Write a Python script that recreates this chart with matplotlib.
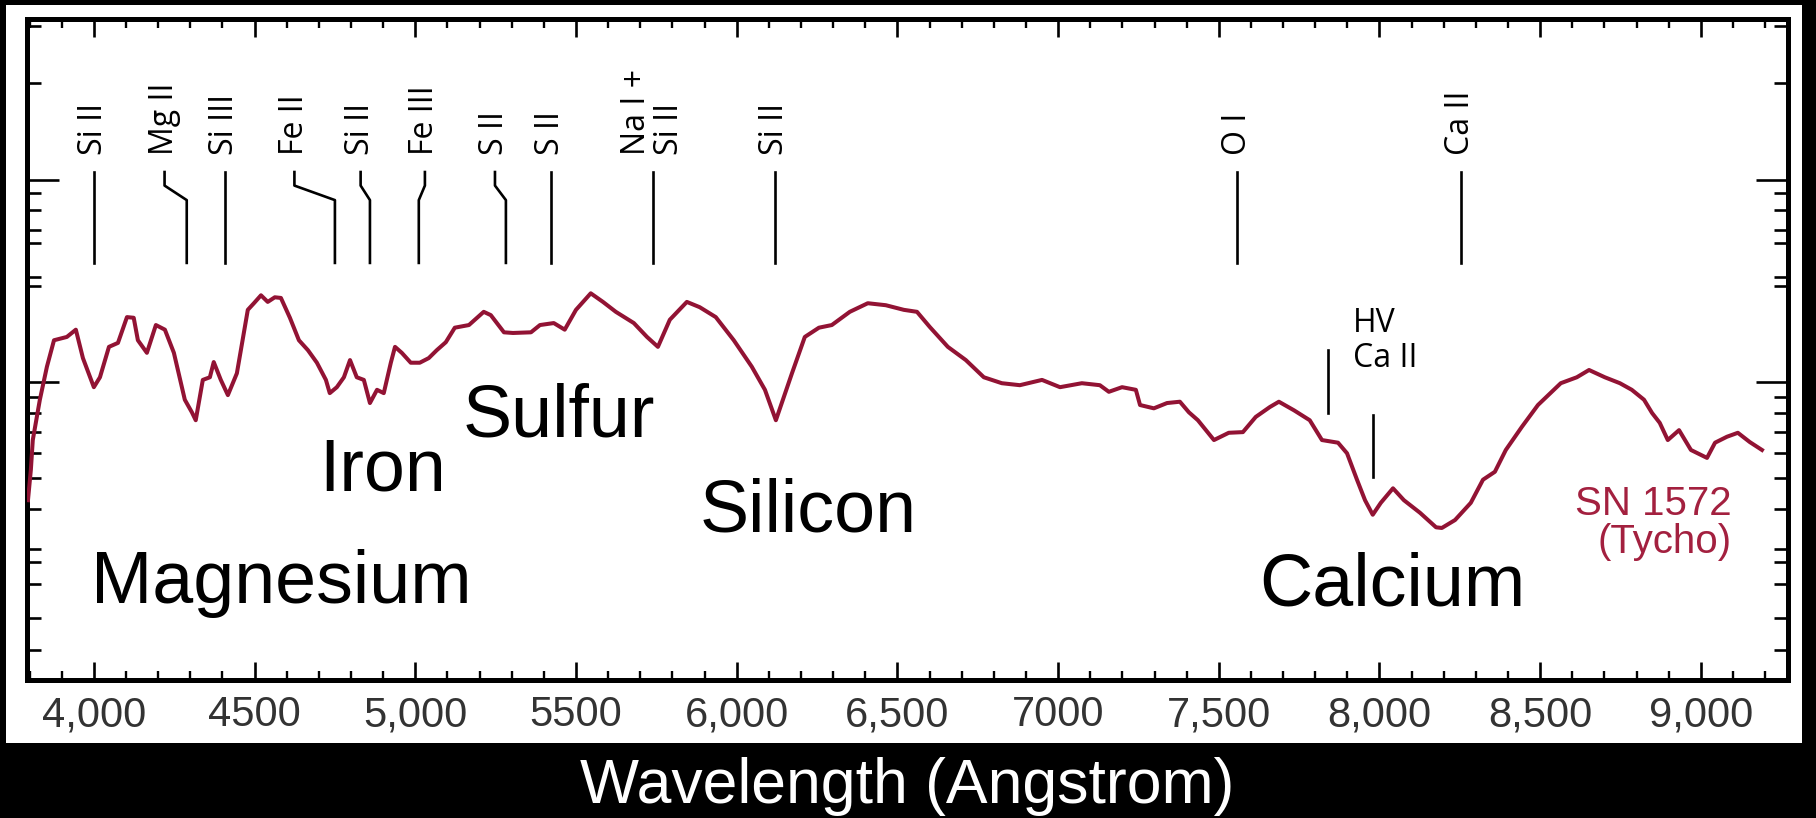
import matplotlib
matplotlib.use("Agg")
import matplotlib.pyplot as plt
from matplotlib.patches import Rectangle

# ---------------- data ----------------
wavelength = [3795, 3804, 3810, 3832, 3854, 3876, 3916, 3944, 3966, 4000, 4019, 4047, 4075,
              4103, 4124, 4137, 4165, 4193, 4221, 4249, 4283, 4305, 4317, 4339, 4361, 4373,
              4395, 4417, 4445, 4479, 4498, 4520, 4541, 4563, 4582, 4610, 4638, 4666, 4694,
              4722, 4734, 4756, 4778, 4797, 4818, 4840, 4859, 4881, 4902, 4924, 4937, 4958,
              4986, 5014, 5042, 5067, 5095, 5123, 5167, 5213, 5235, 5276, 5304, 5360, 5388,
              5431, 5465, 5500, 5546, 5584, 5624, 5680, 5721, 5755, 5792, 5845, 5885, 5935,
              5991, 6047, 6088, 6122, 6172, 6212, 6256, 6296, 6352, 6408, 6464, 6520, 6561,
              6601, 6657, 6713, 6769, 6825, 6881, 6950, 7006, 7074, 7130, 7158, 7199, 7242,
              7255, 7298, 7339, 7379, 7407, 7435, 7485, 7531, 7575, 7615, 7659, 7687, 7734,
              7783, 7821, 7871, 7899, 7930, 7955, 7979, 8004, 8042, 8076, 8126, 8176, 8194,
              8235, 8284, 8322, 8359, 8393, 8443, 8493, 8564, 8614, 8652, 8701, 8748, 8785,
              8823, 8848, 8872, 8897, 8932, 8969, 9019, 9044, 9081, 9115, 9152, 9190]
flux = [0.272, 0.318, 0.363, 0.424, 0.474, 0.514, 0.519, 0.530, 0.487, 0.443, 0.458, 0.504, 0.510,
        0.549, 0.548, 0.514, 0.495, 0.537, 0.530, 0.495, 0.424, 0.405, 0.393, 0.454, 0.458, 0.481,
        0.454, 0.431, 0.464, 0.560, 0.570, 0.582, 0.572, 0.579, 0.578, 0.548, 0.514, 0.499, 0.480,
        0.454, 0.434, 0.443, 0.458, 0.484, 0.458, 0.454, 0.419, 0.439, 0.434, 0.480, 0.504, 0.495,
        0.480, 0.480, 0.487, 0.499, 0.511, 0.533, 0.537, 0.557, 0.552, 0.526, 0.525, 0.526, 0.537,
        0.540, 0.530, 0.560, 0.585, 0.572, 0.557, 0.540, 0.519, 0.504, 0.545, 0.572, 0.564, 0.549,
        0.514, 0.474, 0.439, 0.393, 0.464, 0.519, 0.533, 0.537, 0.557, 0.570, 0.567, 0.560, 0.557,
        0.534, 0.504, 0.484, 0.458, 0.449, 0.446, 0.454, 0.443, 0.449, 0.446, 0.436, 0.443, 0.439,
        0.416, 0.411, 0.419, 0.421, 0.405, 0.393, 0.363, 0.374, 0.375, 0.398, 0.413, 0.421, 0.408,
        0.393, 0.363, 0.359, 0.343, 0.303, 0.272, 0.250, 0.268, 0.290, 0.272, 0.253, 0.231, 0.230,
        0.242, 0.268, 0.303, 0.315, 0.348, 0.383, 0.416, 0.449, 0.458, 0.469, 0.458, 0.449, 0.439,
        0.424, 0.404, 0.389, 0.363, 0.378, 0.348, 0.336, 0.359, 0.368, 0.374, 0.360, 0.348]

line_names = ["Si II", "Mg II", "Si III", "Fe II", "Si II", "Fe III", "S II", "S II",
              "Na I +\nSi II", "Si II", "O I", "Ca II"]
line_label_wl = [4000, 4220, 4408, 4624, 4830, 5030, 5248, 5422, 5739, 6119, 7558, 8253]
line_wl = [4000, 4289, 4408, 4750, 4859, 5011, 5282, 5422, 5739, 6119, 7558, 8253]

hv_wl = [7839, 7979]
hv_label = "HV\nCa II"

element_names = ["Magnesium", "Iron", "Sulfur", "Silicon", "Calcium"]
element_wl = [3991, 4700, 5148, 5885, 7625]
element_flux = [0.1165, 0.287, 0.368, 0.224, 0.113]

xtick_values = [4000, 4500, 5000, 5500, 6000, 6500, 7000, 7500, 8000, 8500, 9000]
xtick_labels = ["4,000", "4500", "5,000", "5500", "6,000", "6,500", "7000", "7,500",
                "8,000", "8,500", "9,000"]
ytick_major = [0.756, 0.451]
ytick_minor = [0.989, 0.903, 0.737, 0.711, 0.681, 0.661, 0.610, 0.596, 0.428, 0.404, 0.375,
               0.343, 0.306, 0.259, 0.198, 0.179, 0.145, 0.094, 0.045]

# ---------------- figure ----------------
W, H = 1816, 818
fig = plt.figure(figsize=(W / 100, H / 100), dpi=100, facecolor="black")
fig.add_artist(Rectangle((6 / W, 1 - 743 / H), 1796 / W, 738 / H, transform=fig.transFigure,
                         facecolor="white", edgecolor="none", zorder=0))

ax = fig.add_axes([27 / W, 1 - 680 / H, (1788 - 27) / W, 661 / H])
ax.set_facecolor("white")
ax.set_xlim(3792, 9271)
ax.set_ylim(0, 1)

red = "#921334"
ax.plot(wavelength, flux, color=red, lw=2.9, solid_joinstyle="round", zorder=3)

# spectral line markers
xt = ax.get_xaxis_transform()
for name, wl_top, wl_bot in zip(line_names, line_label_wl, line_wl):
    ax.plot([wl_top, wl_top, wl_bot, wl_bot], [0.7685, 0.748, 0.726, 0.631],
            transform=xt, color="black", lw=1.9, zorder=2)
    ax.text(wl_top, 0.794, name, transform=xt, rotation=90, ha="center", va="bottom",
            fontsize=23, family="Open Sans", multialignment="left", color="black",
            linespacing=1.0)

ax.plot([hv_wl[0], hv_wl[0]], [0.499, 0.404], transform=xt, color="black", lw=1.9)
ax.plot([hv_wl[1], hv_wl[1]], [0.401, 0.307], transform=xt, color="black", lw=1.9)
ax.text(7917, 0.4735, hv_label, transform=xt, ha="left", va="baseline", fontsize=23,
        family="Open Sans", color="black", linespacing=1.1)

for name, wl, fl in zip(element_names, element_wl, element_flux):
    ax.text(wl, fl, name, ha="left", va="baseline", fontsize=53,
            family="Liberation Sans", color="black")

ax.text(9097, 0.192, "SN 1572\n(Tycho)", ha="right", va="baseline", multialignment="right",
        fontsize=29, family="Liberation Sans", color="#a3203f", linespacing=1.0)

# axes styling
for sp in ax.spines.values():
    sp.set_linewidth(3.6)
    sp.set_color("black")

ax.set_xticks(xtick_values)
ax.set_xticklabels(xtick_labels, fontsize=30, family="Liberation Sans", color="#333333")
ax.set_xticks(list(range(3800, 9300, 100)), minor=True)
ax.set_yticks(ytick_major)
ax.set_yticks(ytick_minor, minor=True)
ax.tick_params(axis="x", which="major", direction="in", length=13, width=1.9,
               top=True, bottom=True, pad=11)
ax.tick_params(axis="x", which="minor", direction="in", length=6.5, width=1.7,
               top=True, bottom=True)
ax.tick_params(axis="y", which="major", direction="in", length=23, width=1.9,
               left=True, right=True, labelleft=False)
ax.tick_params(axis="y", which="minor", direction="in", length=10, width=1.9,
               left=True, right=True, labelleft=False)

ax.set_xlabel("Wavelength (Angstrom)", color="white", fontsize=45,
              family="Liberation Sans", va="center")
ax.xaxis.set_label_coords(0.5, (680 - 787) / 661)

fig.savefig("out.png", dpi=100, facecolor="black")
